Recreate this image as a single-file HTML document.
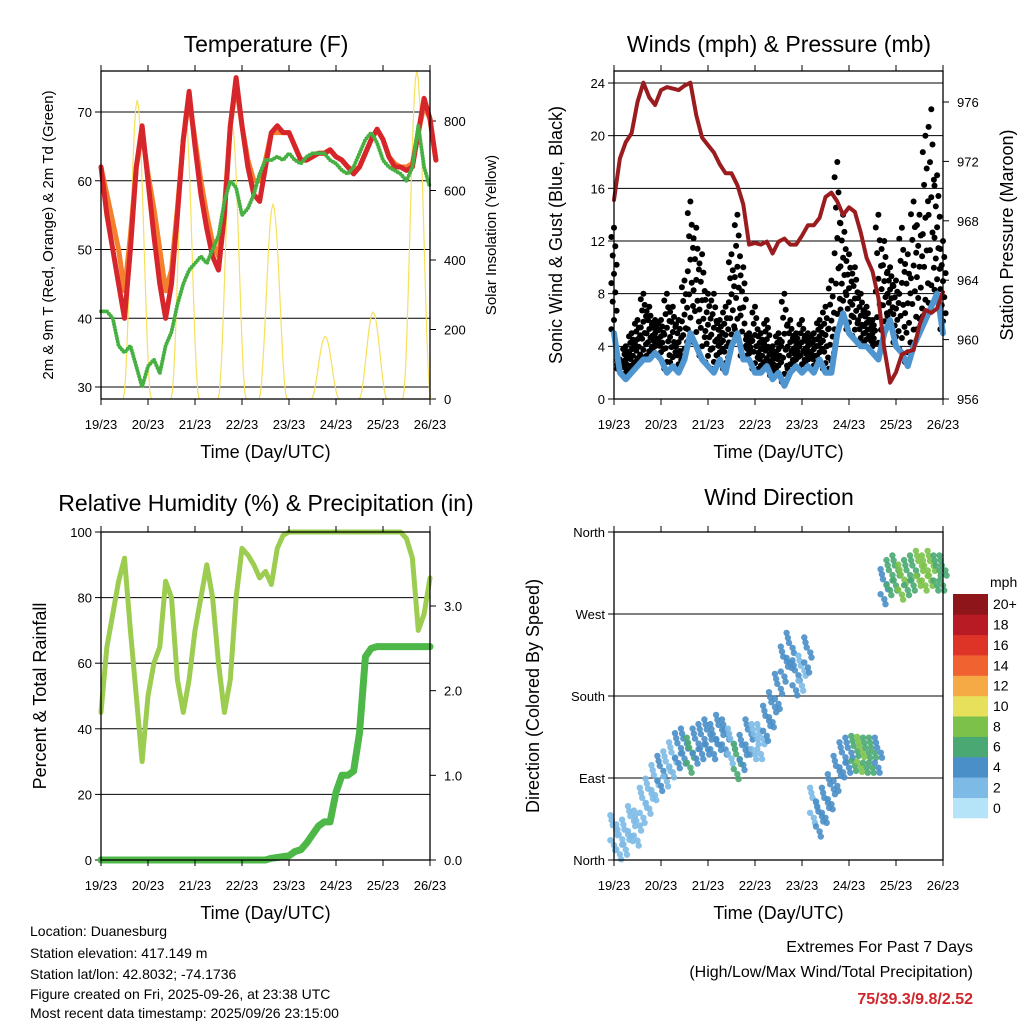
<!DOCTYPE html>
<html><head><meta charset="utf-8">
<style>
html,body{margin:0;padding:0;background:#fff;}
svg{display:block;font-family:"Liberation Sans",Arial,sans-serif;}
</style></head>
<body>
<svg id="s" width="1024" height="1024" viewBox="0 0 1024 1024">
<g><text x="266" y="52" font-size="23" text-anchor="middle">Temperature (F)</text></g>
<g><text x="779" y="52" font-size="23" text-anchor="middle">Winds (mph) &amp; Pressure (mb)</text></g>
<g><text x="266" y="511" font-size="23" text-anchor="middle">Relative Humidity (%) &amp; Precipitation (in)</text></g>
<g><text x="779" y="505" font-size="23" text-anchor="middle">Wind Direction</text></g>

<text transform="translate(53,235) rotate(-90)" font-size="15" text-anchor="middle">2m &amp; 9m T (Red, Orange) &amp; 2m Td (Green)</text>
<text transform="translate(496,235) rotate(-90)" font-size="15" text-anchor="middle">Solar Insolation (Yellow)</text>
<text transform="translate(562,235) rotate(-90)" font-size="18" text-anchor="middle">Sonic Wind &amp; Gust (Blue, Black)</text>
<text transform="translate(1013,235) rotate(-90)" font-size="18" text-anchor="middle">Station Pressure (Maroon)</text>
<text transform="translate(46,696) rotate(-90)" font-size="18" text-anchor="middle">Percent &amp; Total Rainfall</text>
<text transform="translate(539,696) rotate(-90)" font-size="18" text-anchor="middle">Direction (Colored By Speed)</text>

<g font-size="14">
<text x="30" y="936">Location: Duanesburg</text>
<text x="30" y="958">Station elevation: 417.149 m</text>
<text x="30" y="979">Station lat/lon: 42.8032; -74.1736</text>
<text x="30" y="999">Figure created on Fri, 2025-09-26, at 23:38 UTC</text>
<text x="30" y="1018">Most recent data timestamp: 2025/09/26 23:15:00</text>
</g>
<g text-anchor="end">
<text x="973" y="952" font-size="16">Extremes For Past 7 Days</text>
<text x="973" y="977" font-size="16">(High/Low/Max Wind/Total Precipitation)</text>
<text x="973" y="1004" font-size="16" font-weight="bold" fill="#d0262b">75/39.3/9.8/2.52</text>
</g>
</svg>
<script>
// ===== data (3-hour steps from 19/23 to 26/23) =====
const dayLabels = ["19/23","20/23","21/23","22/23","23/23","24/23","25/23","26/23"];
const temp2m = [62,55,50,45,40,50,62,68,60,52,45,40,45,55,66,73,65,58,53,49,47,55,68,75,68,62,58,57,62,67,68,67,67,65,63,63,63.5,64,64,64.5,63.5,63,62,61,62,64,66,67.5,66,63.5,62,62,61.5,62,67,72,69,63];
const temp9m = [62,58,54,50,44,52,62,67,61,56,50,44,47,56,66,72,66,60,55,51,49,56,68,74,68,63,60,60,63,67,67,67,67,65,63,63,63.5,64,64,64.5,63.5,63,62,61.5,62,64,66,67.5,66,63.5,62.5,62,62,62.5,67,71,69,63];
const dewpt = [41,41,40,36,35,36,33,30,33,34,32,36,38,42,45,47,48,49,48,50,52,57,60,59,55,56,58,61,63,63,63.5,63,64,63,62.5,63.5,64,64,64,63,62.5,61.5,61,62,64,66,67,65.5,63,62,61.5,61,60,62,68,62,59];
const solarPeakDay = [0.77,1.79,2.79,3.66,4.77,5.79,6.72];
const solarPeakVal = [860,830,790,560,180,250,944];
const pressure = [969.4,972.2,973.3,973.9,976,977.3,976.3,975.8,976.8,977,976.9,976.8,977.1,977.3,975.1,973.6,973.1,972.6,971.8,971.2,971.2,970.4,969.1,966.4,966.5,966.4,966.6,965.8,966.6,966.8,966.4,966.4,967,967.7,967.7,968.2,969.6,969.9,969.3,968.4,968.9,968.6,967.2,965.5,964.6,962.8,959.4,957.1,957.8,959,959.2,959.3,961,962,961.8,962.1,963.2];
const windSpd = [5,2,1.5,2,2.5,3,3,3.5,3,2,2.5,2,3,5,4,3,2.5,2,3,2,4,5,3,3,2,2,2.5,1.5,2,1,2,2.5,2,2.5,2,3,2,2,5,6.5,5,4.5,4,4,3.5,3,5,6,4,3.5,2.5,4,5,6,7,8,5];
const gustHigh = [13,3,4,5,6,8,7,6,6,8,7,6,9,15,13,11,8,8,6,7,11,14,10,5,7,5,6,4,5,8,6,5,6,5,5,6,7,9,18,14,11,10,8,7,6,14,12,10,9,13,11,15,14,20,22,17,12];
const windDir = [30,20,25,40,35,60,70,85,95,100,110,120,125,115,125,130,135,130,140,135,125,108,118,135,130,130,150,165,185,215,230,200,205,225,60,45,60,75,95,110,115,117,116,115,115,115,300,310,315,305,310,315,320,315,320,315,315];
const dirSpd = [1,1,2,2,1,2,2,2,3,2,2,3,3,6,3,3,4,3,3,3,2,6,3,3,2,2,3,4,3,3,3,3,2,3,2,3,3,3,3,4,4,6,7,6,5,4,4,5,6,7,5,6,7,8,7,6,5];
const rh = [45,65,75,85,92,70,50,30,50,60,65,85,80,55,45,55,70,80,90,80,60,45,55,80,95,93,90,86,88,84,95,99,100,100,100,100,100,100,100,100,100,100,100,100,100,100,100,100,100,100,100,100,98,92,70,75,86];
const precip = [0,0,0,0,0,0,0,0,0,0,0,0,0,0,0,0,0,0,0,0,0,0,0,0,0,0,0,0,0,0.02,0.03,0.04,0.05,0.1,0.12,0.2,0.3,0.4,0.45,0.45,0.8,1.0,1.0,1.05,1.5,2.4,2.5,2.52,2.52,2.52,2.52,2.52,2.52,2.52,2.52,2.52,2.52];
const speedBins = ["0","2","4","6","8","10","12","14","16","18","20+"];
const binColors = ["#b5e3f8","#7dbae6","#4a8fc8","#4aa873","#7cc24a","#e6e05a","#f6aa45","#f06330","#de3428","#b91b24","#8e1519"];

const NS="http://www.w3.org/2000/svg";
const svg=document.getElementById('s');
function el(tag,attrs,parent){const e=document.createElementNS(NS,tag);for(const k in attrs)e.setAttribute(k,attrs[k]);(parent||svg).appendChild(e);return e;}

function panel(x0,y0,x1,y1){return {x0,y0,x1,y1,
  X:d=>x0+(x1-x0)*d/7};}
function linY(y0,v0,y1,v1){return v=>y0+(v-v0)*(y1-y0)/(v1-v0);}
function tx(i){return i/8;}

function frame(p,name){
  const g=el('g',{});
  
  
  el('rect',{x:p.x0,y:p.y0,width:p.x1-p.x0,height:p.y1-p.y0,fill:'none',stroke:'#000','stroke-width':1.3},g);
  dayLabels.forEach((l,i)=>{const x=p.X(i);
    el('line',{x1:x,x2:x,y1:p.y1,y2:p.y1+6,stroke:'#000'},g);
    el('line',{x1:x,x2:x,y1:p.y0,y2:p.y0-6,stroke:'#000'},g);
    const t=el('text',{x:x,y:p.y1+30,'font-size':13,'text-anchor':'middle'},g);t.textContent=l;});
  const t=el('text',{x:(p.x0+p.x1)/2,y:p.y1+59,'font-size':18,'text-anchor':'middle'},g);t.textContent='Time (Day/UTC)';
  
}
function yTicks(p,Y,vals,labels,side,grid,g){
  vals.forEach((v,i)=>{const y=Y(v);
    if(grid) el('line',{x1:p.x0,x2:p.x1,y1:y,y2:y,stroke:'#000','stroke-width':1},g);
    if(side==='l'){el('line',{x1:p.x0-6,x2:p.x0,y1:y,y2:y,stroke:'#000'},g);
      const t=el('text',{x:p.x0-9,y:y+5,'font-size':13,'text-anchor':'end'},g);t.textContent=labels[i];}
    else{el('line',{x1:p.x1,x2:p.x1+6,y1:y,y2:y,stroke:'#000'},g);
      const t=el('text',{x:p.x1+14,y:y+5,'font-size':13,'text-anchor':'start'},g);t.textContent=labels[i];}
  });
}
function poly(p,arr,Y,attrs,name){
  const pts=arr.map((v,i)=>p.X(tx(i)).toFixed(1)+','+Y(v).toFixed(1)).join(' ');
  const e=el('polyline',Object.assign({points:pts,fill:'none','stroke-linejoin':'round','stroke-linecap':'round'},attrs));
  
  
  return e;
}

// ===== Temperature panel =====
const P1=panel(101,71,430,399);
const T1=linY(387,30,112,70), S1=linY(399,0,121,800);
{const g=el('g',{});
 yTicks(P1,T1,[30,40,50,60,70],["30","40","50","60","70"],'l',true,g);
 yTicks(P1,S1,[0,200,400,600,800],["0","200","400","600","800"],'r',false,g);}
{const g=el('g',{});
 solarPeakDay.forEach((d,k)=>{const pts=[];const w=0.3;
   for(let j=-10;j<=10;j++){const f=j/10;const v=solarPeakVal[k]*Math.pow(Math.cos(f*Math.PI/2),2);
     pts.push(P1.X(d+f*w).toFixed(1)+','+Math.max(P1.y0,S1(v)).toFixed(1));}
   const e=el('polyline',{points:pts.join(' '),fill:'none',stroke:'#f7e05a','stroke-width':1.2},g);
   
   });}
poly(P1,temp9m,T1,{stroke:'#f47f2c','stroke-width':5},'temp-9m-line');
poly(P1,temp2m,T1,{stroke:'#d7262b','stroke-width':5},'temp-2m-line');
poly(P1,dewpt,T1,{stroke:'#47b043','stroke-width':4,'stroke-dasharray':'0 3'},'dewpoint-line');
frame(P1,'temp');

// ===== Winds panel =====
const P2=panel(614,71,943,399);
const W2=linY(399,0,83,24), PR=linY(399,956,102,976);
{const g=el('g',{});
 yTicks(P2,W2,[0,4,8,12,16,20,24],["0","4","8","12","16","20","24"],'l',true,g);
 yTicks(P2,PR,[956,960,964,968,972,976],["956","960","964","968","972","976"],'r',false,g);}
{const g=el('g',{});
 gustHigh.forEach((h,i)=>{const lo=windSpd[i]+0.3;const x=P2.X(tx(i));
   const n=12;
   for(let k=0;k<n;k++){const v=lo+(h-lo)*k/(n-1);const dx=((k*7)%5-2)*1.3;
     const c=el('circle',{cx:(x+dx).toFixed(1),cy:W2(v).toFixed(1),r:3,fill:'#000'},g);
     
     }});}
poly(P2,windSpd,W2,{stroke:'#4f96d0','stroke-width':6},'wind-speed-line');
poly(P2,pressure,PR,{stroke:'#9b1c1f','stroke-width':4},'pressure-line');
frame(P2,'wind');

// ===== RH panel =====
const P3=panel(101,532,430,860);
const H3=linY(860,0,532,100), R3=linY(860,0,606,3);
{const g=el('g',{});
 yTicks(P3,H3,[0,20,40,60,80,100],["0","20","40","60","80","100"],'l',true,g);
 yTicks(P3,R3,[0,1,2,3],["0.0","1.0","2.0","3.0"],'r',false,g);}
poly(P3,rh,H3,{stroke:'#9ccc50','stroke-width':5},'rh-line');
poly(P3,precip,R3,{stroke:'#4db848','stroke-width':7},'precip-line');
frame(P3,'rh');

// ===== Wind direction panel =====
const P4=panel(614,532,943,860);
const D4=linY(860,0,532,360);
{const g=el('g',{});
 yTicks(P4,D4,[0,90,180,270,360],["North","East","South","West","North"],'l',true,g);}
{const g=el('g',{});
 windDir.forEach((d,i)=>{const b=Math.min(10,Math.round(dirSpd[i]/2));const x=P4.X(tx(i));
   for(let k=0;k<8;k++){const dx=((k*5)%7-3)*1.2;const dy=((k*3)%8-3.5)*5;
     const c=el('circle',{cx:(x+dx).toFixed(1),cy:(D4(d)+dy).toFixed(1),r:3.2,fill:binColors[b],opacity:0.9},g);
     
     }});}
frame(P4,'dir');

// colorbar
{const g=el('g',{});
 const t=el('text',{x:990,y:587,'font-size':14},g);t.textContent='mph';
 const n=speedBins.length,h=224/n;
 for(let k=0;k<n;k++){const y=594+(n-1-k)*h;
   const r=el('rect',{x:953,y:y.toFixed(1),width:35,height:(h+0.3).toFixed(1),fill:binColors[k]},g);
   
   
   const l=el('text',{x:993,y:(y+h/2+5).toFixed(1),'font-size':14},g);l.textContent=speedBins[k];}}
</script>
</body></html>
